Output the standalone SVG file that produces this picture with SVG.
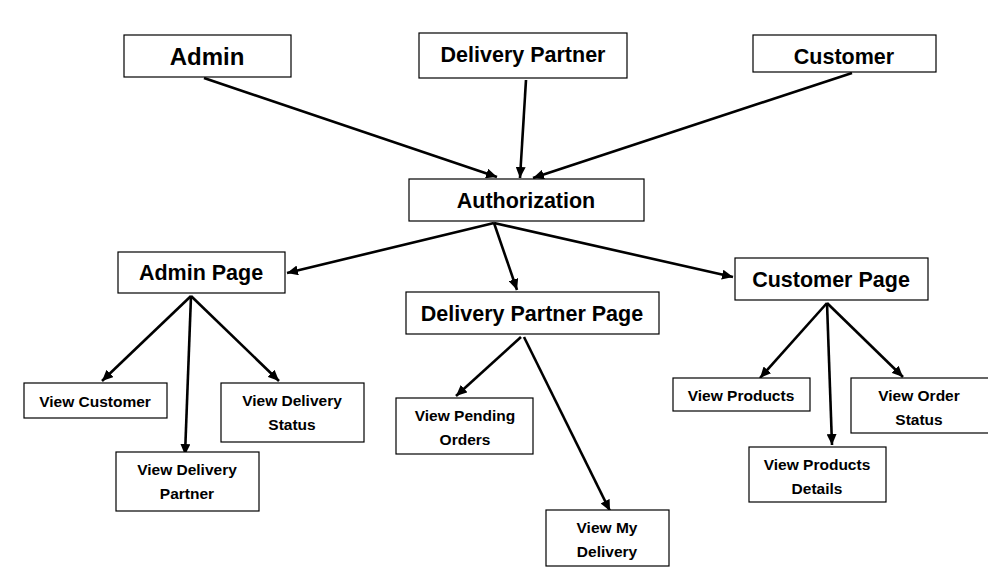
<svg xmlns="http://www.w3.org/2000/svg" width="988" height="587" viewBox="0 0 988 587">
<style>
.box{fill:#fff;stroke:#000;stroke-width:1.2}
text{font-family:"Liberation Sans",Arial,sans-serif;font-weight:bold;fill:#000;text-anchor:middle}
.big{font-size:21.5px}
.sm{font-size:15.5px}
.c{stroke:#000;stroke-width:2.6;fill:none;marker-end:url(#ah)}
</style>
<defs>
<marker id="ah" markerUnits="userSpaceOnUse" markerWidth="12" markerHeight="10" refX="11" refY="5" orient="auto">
<path d="M0,0 L11,5 L0,10 z" fill="#000"/>
</marker>
</defs>
<rect width="988" height="587" fill="#fff"/>
<g id="connectors">
<line class="c" x1="204" y1="78" x2="497" y2="177"/>
<line class="c" x1="526" y1="80" x2="520" y2="178"/>
<line class="c" x1="852" y1="73" x2="533" y2="178"/>
<line class="c" x1="494" y1="223" x2="287" y2="273"/>
<line class="c" x1="494" y1="223" x2="517" y2="290"/>
<line class="c" x1="494" y1="223" x2="733" y2="277"/>
<line class="c" x1="191" y1="296" x2="102" y2="381"/>
<line class="c" x1="191" y1="296" x2="185" y2="455"/>
<line class="c" x1="191" y1="296" x2="279" y2="381"/>
<line class="c" x1="521" y1="337" x2="456" y2="396"/>
<line class="c" x1="524" y1="337" x2="610" y2="511"/>
<line class="c" x1="827" y1="303" x2="760" y2="378"/>
<line class="c" x1="827" y1="303" x2="832" y2="445"/>
<line class="c" x1="827" y1="303" x2="903" y2="377"/>
</g>
<g id="admin"><rect class="box" x="124" y="35" width="167" height="42"/><text x="207" y="65" style="font-size:24px">Admin</text></g>
<g id="delivery-partner"><rect class="box" x="419" y="33" width="208" height="45"/><text class="big" x="523" y="62">Delivery Partner</text></g>
<g id="customer"><rect class="box" x="753" y="35" width="183" height="37"/><text class="big" x="844" y="64">Customer</text></g>
<g id="authorization"><rect class="box" x="409" y="179" width="235" height="42"/><text class="big" x="526" y="208">Authorization</text></g>
<g id="admin-page"><rect class="box" x="118" y="252" width="167" height="41"/><text class="big" x="201" y="280">Admin Page</text></g>
<g id="delivery-partner-page"><rect class="box" x="406" y="292" width="253" height="42"/><text class="big" x="532" y="321">Delivery Partner Page</text></g>
<g id="customer-page"><rect class="box" x="735" y="258" width="193" height="42"/><text class="big" x="831" y="287">Customer Page</text></g>
<g id="view-customer"><rect class="box" x="24" y="383" width="143" height="35"/><text class="sm" x="95" y="407">View Customer</text></g>
<g id="view-delivery-status"><rect class="box" x="221" y="383" width="143" height="59"/><text class="sm" x="292" y="406">View Delivery</text><text class="sm" x="292" y="430">Status</text></g>
<g id="view-delivery-partner"><rect class="box" x="116" y="452" width="143" height="59"/><text class="sm" x="187" y="475">View Delivery</text><text class="sm" x="187" y="499">Partner</text></g>
<g id="view-pending-orders"><rect class="box" x="396" y="398" width="137" height="56"/><text class="sm" x="465" y="421">View Pending</text><text class="sm" x="465" y="445">Orders</text></g>
<g id="view-my-delivery"><rect class="box" x="546" y="510" width="123" height="56"/><text class="sm" x="607" y="533">View My</text><text class="sm" x="607" y="557">Delivery</text></g>
<g id="view-products"><rect class="box" x="673" y="378" width="137" height="33"/><text class="sm" x="741" y="401">View Products</text></g>
<g id="view-order-status"><rect class="box" x="851" y="378" width="140" height="55"/><text class="sm" x="919" y="401">View Order</text><text class="sm" x="919" y="425">Status</text></g>
<g id="view-products-details"><rect class="box" x="749" y="447" width="137" height="55"/><text class="sm" x="817" y="470">View Products</text><text class="sm" x="817" y="494">Details</text></g>
</svg>
